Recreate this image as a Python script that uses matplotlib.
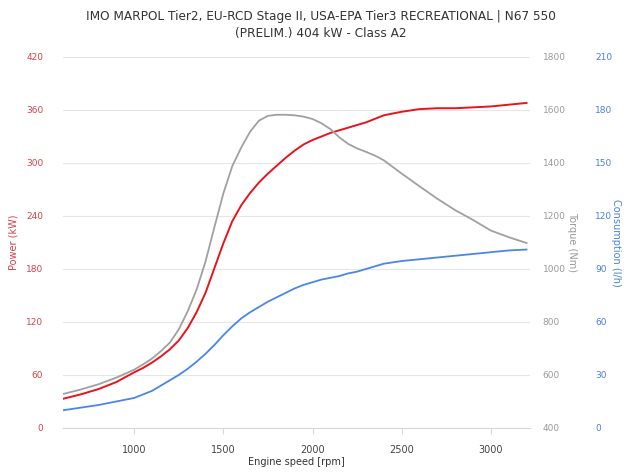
import numpy as np
import matplotlib.pyplot as plt

# engine curves (denser points where the curves bend)
rpm = [600, 700, 800, 900, 1000, 1050, 1100, 1150, 1200, 1250, 1300, 1350, 1400, 1450,
       1500, 1550, 1600, 1650, 1700, 1750, 1800, 1850, 1900, 1950, 2000, 2050, 2100, 2150,
       2200, 2250, 2300, 2350, 2400, 2500, 2600, 2700, 2800, 2900, 3000, 3100, 3200]
power = [33, 38, 44, 52, 63, 68, 74, 81, 89, 99, 113, 131, 153, 181,
         209, 234, 252, 266, 278, 288, 297, 306, 314, 321, 326, 330, 334, 337,
         340, 343, 346, 350, 354, 358, 361, 362, 362, 363, 364, 366, 368]
torque = [528, 545, 565, 590, 620, 640, 662, 690, 722, 772, 840, 922, 1028, 1158,
          1285, 1388, 1458, 1518, 1560, 1578, 1582, 1582, 1580, 1575, 1566, 1550, 1528, 1497,
          1472, 1455, 1442, 1428, 1410, 1360, 1312, 1265, 1222, 1185, 1145, 1120, 1098]
consumption = [10, 11.5, 13, 15, 17, 19, 21, 24, 27, 30, 33.5, 37.5, 42, 47,
               52.5, 57.5, 62, 65.5, 68.5, 71.5, 74, 76.5, 79, 81, 82.5, 84, 85, 86,
               87.5, 88.5, 90, 91.5, 93, 94.5, 95.5, 96.5, 97.5, 98.5, 99.5, 100.5, 101]

power_ticks = [0, 60, 120, 180, 240, 300, 360, 420]
torque_ticks = [400, 600, 800, 1000, 1200, 1400, 1600, 1800]
cons_ticks = [0, 30, 60, 90, 120, 150, 180, 210]
rpm_ticks = [1000, 1500, 2000, 2500, 3000]

title = "IMO MARPOL Tier2, EU-RCD Stage II, USA-EPA Tier3 RECREATIONAL | N67 550\n(PRELIM.) 404 kW - Class A2"

red = '#e8141c'
red_txt = '#d8404a'
grey = '#a0a0a0'
grey_txt = '#999999'
blue = '#4a86e8'
blue_txt = '#4a7fd8'

fig = plt.figure(figsize=(6.41, 4.75), dpi=100)
ax = fig.add_axes([0.098, 0.099, 0.729, 0.781])
ax2 = ax.twinx()
ax3 = ax.twinx()

ax.plot(rpm, power, color=red, lw=1.4, zorder=3, solid_joinstyle='round')
ax2.plot(rpm, torque, color=grey, lw=1.3, solid_joinstyle='round')
ax3.plot(rpm, consumption, color=blue, lw=1.3, solid_joinstyle='round')

ax.set_xlim(600, 3220)
ax.set_ylim(0, 420)
ax2.set_ylim(400, 1800)
ax3.set_ylim(0, 210)

ax.set_yticks(power_ticks)
ax2.set_yticks(torque_ticks)
ax3.set_yticks(cons_ticks)
ax.set_xticks(rpm_ticks)

ax.grid(axis='y', color='#e6e6e6', lw=0.8)
ax.set_axisbelow(True)
for a in (ax, ax2, ax3):
    for s in ('top', 'left', 'right'):
        a.spines[s].set_visible(False)
ax2.spines['bottom'].set_visible(False)
ax3.spines['bottom'].set_visible(False)
ax.spines['bottom'].set_color('#d8d8d8')

ax.tick_params(axis='y', length=0, pad=14, labelsize=6.5, labelcolor=red_txt)
ax.tick_params(axis='x', length=4, color='#d8d8d8', pad=8, labelsize=7, labelcolor='#444444')
ax2.tick_params(axis='y', length=0, pad=9, labelsize=6.5, labelcolor=grey_txt)
ax3.tick_params(axis='y', length=0, pad=47, labelsize=6.5, labelcolor=blue_txt)

ax.set_ylabel('Power (kW)', color=red_txt, fontsize=7)
ax.yaxis.set_label_coords(-0.095, 0.5)
ax2.set_ylabel('Torque (Nm)', color=grey_txt, fontsize=7, rotation=270)
ax2.yaxis.set_label_coords(1.1, 0.5)
ax3.set_ylabel('Consumption (l/h)', color=blue_txt, fontsize=7, rotation=270)
ax3.yaxis.set_label_coords(1.195, 0.5)
ax.set_xlabel('Engine speed [rpm]', fontsize=7, color='#333333', labelpad=2)

fig.text(0.5, 0.978, title, ha='center', va='top', fontsize=8.7, color='#333333', linespacing=1.35)

plt.savefig('out.png', dpi=100)
